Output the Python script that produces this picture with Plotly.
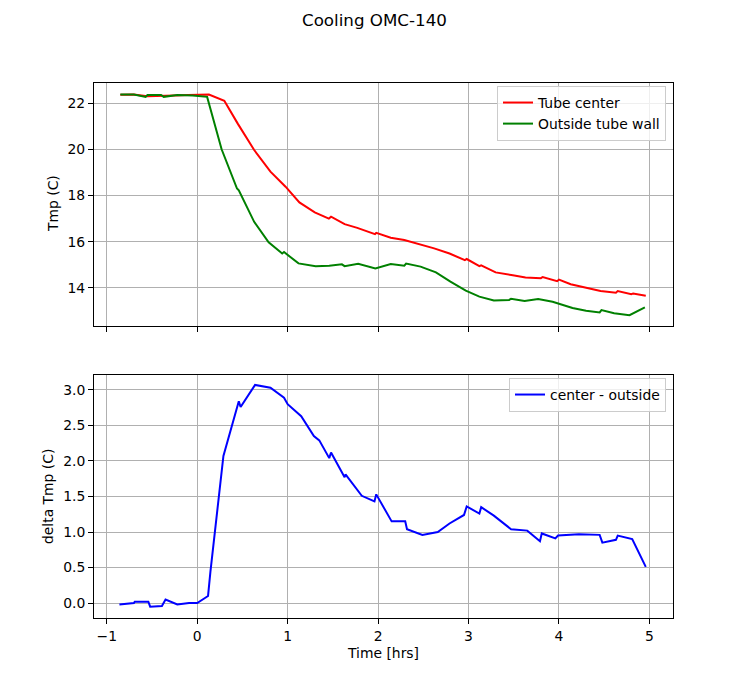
import plotly.graph_objects as go

# Tube center (red)
center_t = [-0.85, -0.70, -0.55, -0.40, -0.25, -0.10, 0.00, 0.13, 0.30, 0.45, 0.63, 0.81, 0.977, 1.13, 1.30,
            1.456, 1.48, 1.63, 1.77, 1.966, 1.98, 2.14, 2.29, 2.45, 2.62, 2.79, 2.96, 2.98, 3.12, 3.14,
            3.30, 3.49, 3.63, 3.80, 3.82, 3.98, 4.00, 4.13, 4.30, 4.46, 4.63, 4.65, 4.80, 4.82, 4.96]
center_v = [22.36, 22.37, 22.30, 22.30, 22.33, 22.35, 22.36, 22.37, 22.10, 21.10, 19.97, 19.03, 18.38, 17.70, 17.27,
            17.00, 17.08, 16.76, 16.60, 16.33, 16.38, 16.17, 16.07, 15.90, 15.71, 15.49, 15.20, 15.25, 14.94, 14.98,
            14.67, 14.55, 14.45, 14.42, 14.47, 14.29, 14.36, 14.16, 14.00, 13.87, 13.79, 13.86, 13.73, 13.76, 13.66]

# Outside tube wall (green)
outside_t = [-0.85, -0.70, -0.57, -0.55, -0.40, -0.37, -0.22, -0.05, 0.11, 0.27, 0.44, 0.46, 0.63, 0.79, 0.94,
             0.96, 1.12, 1.31, 1.46, 1.60, 1.63, 1.78, 1.97, 2.14, 2.29, 2.31, 2.47, 2.64, 2.80, 2.97,
             3.12, 3.28, 3.45, 3.47, 3.62, 3.77, 3.93, 4.15, 4.30, 4.45, 4.47, 4.61, 4.78, 4.95]
outside_v = [22.37, 22.37, 22.27, 22.35, 22.35, 22.27, 22.35, 22.33, 22.27, 20.00, 18.30, 18.22, 16.86, 15.97, 15.49,
             15.55, 15.06, 14.94, 14.96, 15.02, 14.94, 15.04, 14.84, 15.03, 14.96, 15.05, 14.92, 14.67, 14.27, 13.88,
             13.62, 13.45, 13.48, 13.53, 13.43, 13.52, 13.40, 13.13, 13.01, 12.94, 13.04, 12.90, 12.82, 13.16]

# center - outside (blue)
delta_t = [-0.86, -0.70, -0.69, -0.54, -0.52, -0.39, -0.35, -0.22, -0.09, 0.00, 0.12, 0.146, 0.29, 0.46, 0.48,
           0.64, 0.81, 0.96, 1.00, 1.15, 1.29, 1.35, 1.46, 1.48, 1.63, 1.64, 1.82, 1.96, 1.98, 2.10,
           2.15, 2.30, 2.32, 2.49, 2.66, 2.79, 2.95, 2.98, 3.12, 3.14, 3.28, 3.47, 3.65, 3.79, 3.81,
           3.96, 3.99, 4.22, 4.45, 4.48, 4.63, 4.65, 4.81, 4.96]
delta_v = [-0.02, 0.00, 0.02, 0.02, -0.05, -0.04, 0.05, -0.02, 0.00, 0.00, 0.10, 0.44, 2.07, 2.84, 2.76,
           3.07, 3.03, 2.89, 2.80, 2.63, 2.35, 2.29, 2.04, 2.12, 1.77, 1.81, 1.51, 1.43, 1.53, 1.27,
           1.15, 1.15, 1.04, 0.96, 1.00, 1.12, 1.24, 1.36, 1.26, 1.35, 1.23, 1.04, 1.02, 0.87, 0.98,
           0.91, 0.95, 0.97, 0.96, 0.85, 0.89, 0.95, 0.90, 0.51]

x_ticks = [-1, 0, 1, 2, 3, 4, 5]

FONT = "DejaVu Sans"
FS = 13.9

fig = go.Figure()
fig.add_trace(go.Scatter(x=center_t, y=center_v, mode="lines", name="Tube center",
                         line=dict(color="#ff0000", width=2), xaxis="x", yaxis="y", legend="legend"))
fig.add_trace(go.Scatter(x=outside_t, y=outside_v, mode="lines", name="Outside tube wall",
                         line=dict(color="#008000", width=2), xaxis="x", yaxis="y", legend="legend"))
fig.add_trace(go.Scatter(x=delta_t, y=delta_v, mode="lines", name="center - outside",
                         line=dict(color="#0000ff", width=2), xaxis="x2", yaxis="y2", legend="legend2"))

axis_common = dict(showline=True, linecolor="black", linewidth=1, mirror=True,
                   ticks="outside", ticklen=5, tickcolor="black", tickwidth=1,
                   showgrid=True, gridcolor="#b0b0b0", gridwidth=1.1, zeroline=False,
                   tickfont=dict(family=FONT, size=FS, color="black"))

xdom = [94 / 748, 673 / 748]
fig.update_layout(
    width=748, height=694,
    margin=dict(l=0, r=0, t=0, b=0),
    paper_bgcolor="white", plot_bgcolor="white",
    font=dict(family=FONT, size=FS, color="black"),
    xaxis=dict(domain=xdom, anchor="y", range=[-1.141, 5.261], tickvals=x_ticks,
               showticklabels=False, **axis_common),
    yaxis=dict(domain=[1 - 326 / 694, 1 - 83 / 694], anchor="x", range=[12.35, 22.87],
               tickvals=[14, 16, 18, 20, 22], **axis_common),
    xaxis2=dict(domain=xdom, anchor="y2", range=[-1.141, 5.261], tickvals=x_ticks,
                **axis_common),
    yaxis2=dict(domain=[1 - 618 / 694, 1 - 375 / 694], anchor="x2", range=[-0.21, 3.21],
                tickvals=[0, 0.5, 1, 1.5, 2, 2.5, 3], ticktext=["0.0", "0.5", "1.0", "1.5", "2.0", "2.5", "3.0"],
                **axis_common),
    legend=dict(x=666 / 748, y=1 - 86 / 694, xanchor="right", yanchor="top",
                bgcolor="rgba(255,255,255,0.8)", bordercolor="#cccccc", borderwidth=1,
                font=dict(family=FONT, size=FS, color="black"), tracegroupgap=0,
                itemwidth=30),
    legend2=dict(x=666 / 748, y=1 - 378 / 694, xanchor="right", yanchor="top",
                 bgcolor="rgba(255,255,255,0.8)", bordercolor="#cccccc", borderwidth=1,
                 font=dict(family=FONT, size=FS, color="black"), itemwidth=30),
    showlegend=True,
    annotations=[
        dict(text="Cooling OMC-140", x=374 / 748, y=1 - 20 / 694, xref="paper", yref="paper",
             showarrow=False, xanchor="center", yanchor="middle", font=dict(family=FONT, size=16.7)),
        dict(text="Tmp (C)", x=53 / 748, y=1 - 204 / 694, xref="paper", yref="paper", textangle=-90,
             showarrow=False, xanchor="center", yanchor="middle", font=dict(family=FONT, size=FS)),
        dict(text="delta Tmp (C)", x=48 / 748, y=1 - 497 / 694, xref="paper", yref="paper", textangle=-90,
             showarrow=False, xanchor="center", yanchor="middle", font=dict(family=FONT, size=FS)),
        dict(text="Time [hrs]", x=383 / 748, y=1 - 653 / 694, xref="paper", yref="paper",
             showarrow=False, xanchor="center", yanchor="middle", font=dict(family=FONT, size=FS)),
    ],
)

fig.write_html("out.html")
